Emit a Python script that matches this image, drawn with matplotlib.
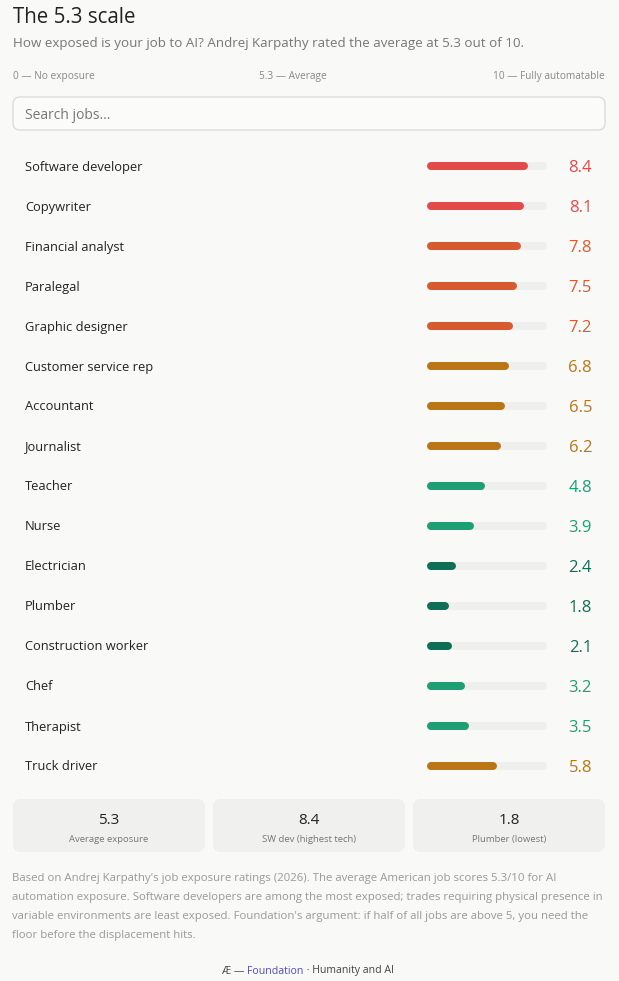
import matplotlib

matplotlib.use("Agg")
import matplotlib.pyplot as plt
from matplotlib.patches import FancyBboxPatch

plt.rcParams["font.family"] = ["Open Sans", "DejaVu Sans"]

# ---- data ----
jobs = ["Software developer", "Copywriter", "Financial analyst", "Paralegal",
        "Graphic designer", "Customer service rep", "Accountant", "Journalist",
        "Teacher", "Nurse", "Electrician", "Plumber", "Construction worker",
        "Chef", "Therapist", "Truck driver"]
scores = [8.4, 8.1, 7.8, 7.5, 7.2, 6.8, 6.5, 6.2, 4.8, 3.9, 2.4, 1.8, 2.1,
          3.2, 3.5, 5.8]
stat_values = ["5.3", "8.4", "1.8"]
stat_labels = ["Average exposure", "SW dev (highest tech)", "Plumber (lowest)"]
scale_labels = ["0 — No exposure", "5.3 — Average", "10 — Fully automatable"]

BG = "#f9f9f7"
TRACK = "#efefed"


def score_color(v):
    if v >= 8:
        return "#e24b4a"
    if v >= 7:
        return "#d85a30"
    if v >= 5.5:
        return "#ba7517"
    if v >= 3:
        return "#1d9e75"
    return "#0f6e56"


W, H = 619, 981
fig = plt.figure(figsize=(W / 100, H / 100), dpi=100, facecolor=BG)
ax = fig.add_axes([0, 0, 1, 1])
ax.set_xlim(0, W)
ax.set_ylim(H, 0)
ax.axis("off")

# header
ax.text(13, 23, "The 5.3 scale", fontsize=14.8, color="#222222", va="baseline")
ax.text(13, 47, "How exposed is your job to AI? Andrej Karpathy rated the average at 5.3 out of 10.",
        fontsize=9.6, color="#777777", va="baseline")
ax.text(13, 78.5, scale_labels[0], fontsize=7.3, color="#888888", va="baseline")
ax.text(293, 78.5, scale_labels[1], fontsize=7.3, color="#888888", va="baseline", ha="center")
ax.text(605, 78.5, scale_labels[2], fontsize=7.3, color="#888888", va="baseline", ha="right")

# search box
ax.add_patch(FancyBboxPatch((13, 97), 592, 33, boxstyle="round,pad=0,rounding_size=7",
                            fc="#fbfbfa", ec="#d9d9d6", lw=0.9))
ax.text(25, 119, "Search jobs...", fontsize=10, color="#777777", va="baseline")

# rows
row0, step = 166, 40
bar_x0, bar_w = 427, 120
bax = fig.add_axes([bar_x0 / W, 0, bar_w / W, 1])
bax.set_xlim(0, 10)
bax.set_ylim(H, 0)
bax.axis("off")
r = 4 / bar_w * 10  # cap radius in data units
lw_pt = 8 * 72 / 100
for i, (job, v) in enumerate(zip(jobs, scores)):
    y = row0 + i * step
    c = score_color(v)
    ax.text(25, y + 4.5, job, fontsize=9.3, color="#222222", va="baseline")
    bax.plot([r, 10 - r], [y, y], color=TRACK, lw=lw_pt, solid_capstyle="round")
    bax.plot([r, v - r], [y, y], color=c, lw=lw_pt, solid_capstyle="round")
    ax.text(592, y + 6, f"{v:.1f}", fontsize=12, color=c, va="baseline", ha="right")

# stat cards
for k, (sv, sl) in enumerate(zip(stat_values, stat_labels)):
    x = 13 + k * 200
    ax.add_patch(FancyBboxPatch((x, 799), 192, 53, boxstyle="round,pad=0,rounding_size=8",
                                fc="#f0f0ee", ec="none"))
    ax.text(x + 96, 824, sv, fontsize=11, color="#222222", ha="center", va="baseline")
    ax.text(x + 96, 842, sl, fontsize=6.8, color="#777777", ha="center", va="baseline")

# note
note = ["Based on Andrej Karpathy's job exposure ratings (2026). The average American job scores 5.3/10 for AI",
        "automation exposure. Software developers are among the most exposed; trades requiring physical presence in",
        "variable environments are least exposed. Foundation's argument: if half of all jobs are above 5, you need the",
        "floor before the displacement hits."]
for j, line in enumerate(note):
    ax.text(12, 881 + j * 19, line, fontsize=8.2, color="#999999", va="baseline")

# footer
t1 = ax.text(222, 971, "Æ — ", fontsize=7.6, color="#444444", va="center")
t2 = ax.annotate("Foundation", xycoords=t1, xy=(1, 0.5), va="center", fontsize=7.6,
                 color="#534ab7")
ax.annotate(" · Humanity and AI", xycoords=t2, xy=(1, 0.5), va="center", fontsize=7.6,
            color="#444444")

fig.savefig("out.png", dpi=100, facecolor=BG)
